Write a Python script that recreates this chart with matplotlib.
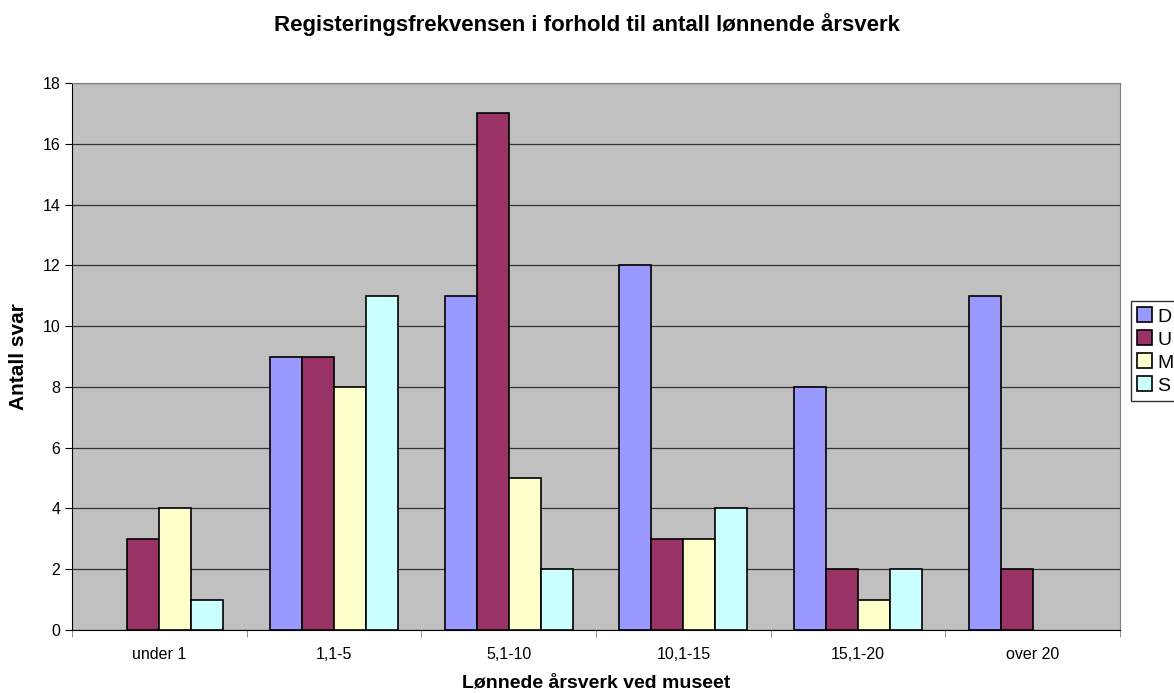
import numpy as np
from matplotlib import pyplot as plt

plt.rcParams['font.family'] = ['Liberation Sans', 'DejaVu Sans']

categories = ['under 1', '1,1-5', '5,1-10', '10,1-15', '15,1-20', 'over 20']
series = ['D', 'U', 'M', 'S']
d_vals = [0, 9, 11, 12, 8, 11]
u_vals = [3, 9, 17, 3, 2, 2]
m_vals = [4, 8, 5, 3, 1, 0]
s_vals = [1, 11, 2, 4, 2, 0]
colors = ['#9999FF', '#993366', '#FFFFCC', '#CCFFFF']

fig = plt.figure(figsize=(11.74, 6.93), dpi=100)
ax = fig.add_axes([72 / 1174, 63 / 693, 1048 / 1174, 547 / 693])
ax.set_facecolor('#C0C0C0')

x = np.arange(len(categories))
w = 0.183
all_vals = [d_vals, u_vals, m_vals, s_vals]
for i, (name, vals) in enumerate(zip(series, all_vals)):
    pos = x + (i - 1.5) * w
    vals = np.array(vals)
    keep = vals > 0  # excel draws nothing for zero
    ax.bar(pos[keep], vals[keep], width=w, color=colors[i], edgecolor='black',
           linewidth=1.2, label=name, zorder=3)

ax.set_xlim(-0.5, len(categories) - 0.5)
ax.set_ylim(0, 18)
ax.set_yticks(range(0, 19, 2))
ax.yaxis.grid(True, color='#333333', linewidth=0.9, zorder=1)
ax.set_xticks(x)
ax.set_xticklabels(categories, fontsize=11.5)
ax.set_xticks(np.arange(-0.5, len(categories)), minor=True)
ax.tick_params(axis='x', which='major', length=0, pad=12)
ax.tick_params(axis='x', which='minor', length=5, direction='out', color='#808080')
ax.tick_params(axis='y', length=5, direction='out', labelsize=11.5)

for side in ['top', 'right']:
    ax.spines[side].set_color('#808080')
for side in ['left', 'bottom']:
    ax.spines[side].set_color('black')

ax.set_xlabel('Lønnede årsverk ved museet', fontsize=14, fontweight='bold', labelpad=9)
ax.set_ylabel('Antall svar', fontsize=15, fontweight='bold', labelpad=10)
fig.text(0.5, 1 - 25 / 693, 'Registeringsfrekvensen i forhold til antall lønnende årsverk',
         ha='center', va='center', fontsize=16, fontweight='bold')

leg = fig.legend(loc='center left', bbox_to_anchor=(1131 / 1174, 1 - 351 / 693),
                 fontsize=14, frameon=True, fancybox=False, edgecolor='black',
                 handlelength=0.8, handleheight=0.8, handletextpad=0.25,
                 borderpad=0.3, labelspacing=0.25, borderaxespad=0)
leg.get_frame().set_linewidth(1)

fig.savefig('out.png', dpi=100)
